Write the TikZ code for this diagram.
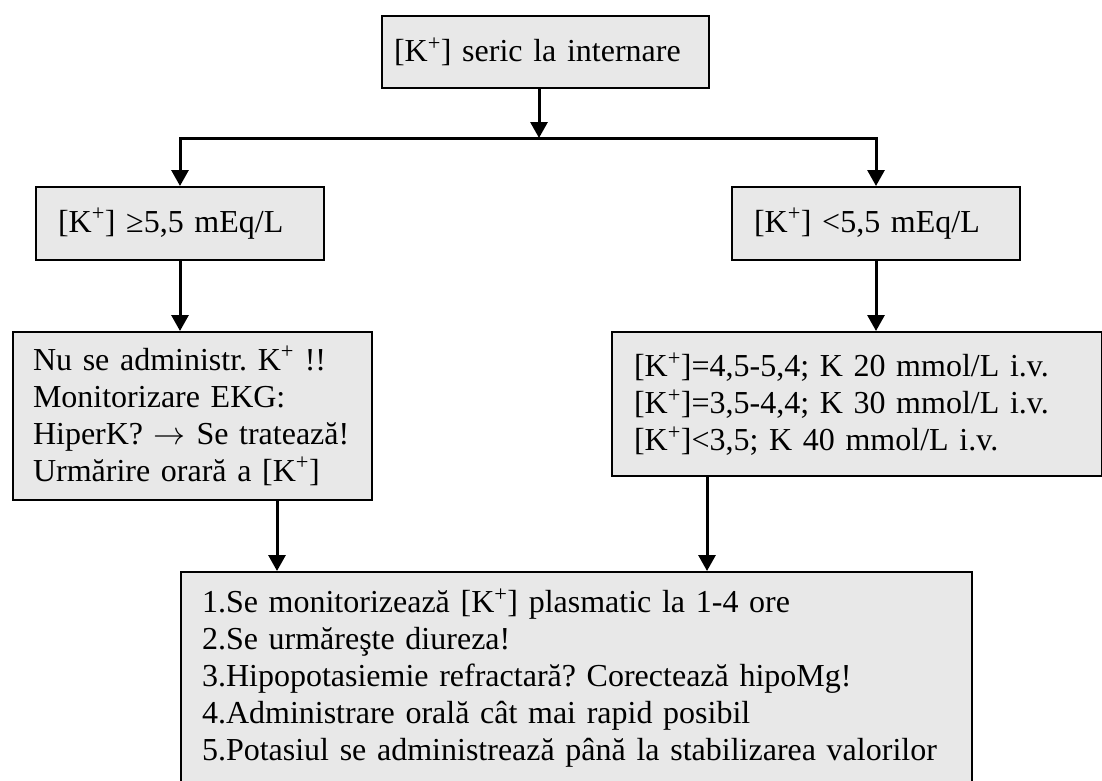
\RequirePackage{fix-cm}
\documentclass[tikz,border=0pt]{standalone}
\usepackage{fontspec}
\setmainfont{Liberation Serif}
\usetikzlibrary{arrows.meta,positioning}
\definecolor{boxgray}{HTML}{E8E8E8}

\begin{document}
\frenchspacing
\begin{tikzpicture}[
  x=1pt, y=-1pt,
  box/.style={draw, line width=2pt, fill=boxgray, anchor=north west, align=left, inner ysep=0pt, font=\fontsize{32}{37}\selectfont},
  arr/.style={-{Triangle[width=17pt,length=16pt]}, line width=3pt}
]
\useasboundingbox (0,0) rectangle (1102,780);

\node[box, inner xsep=12pt, text width=303pt, minimum height=72pt] (adm) at (381,15)
  {[K\textsuperscript{+}] seric la internare};

\node[box, inner xsep=22pt, text width=244pt, minimum height=73pt] (high) at (35,186)
  {[K\textsuperscript{+}] ≥5,5 mEq/L};
\node[box, inner xsep=22pt, text width=244pt, minimum height=73pt] (low) at (731,186)
  {[K\textsuperscript{+}] <5,5 mEq/L};

\node[box, inner xsep=20pt, text width=319pt, minimum height=168pt] (stop) at (12,331)
  {Nu se administr. K\textsuperscript{+} !!\\Monitorizare EKG:\\HiperK? $\rightarrow$ Se tratează!\\Urmărire orară a [K\textsuperscript{+}]};
\node[box, inner xsep=22pt, text width=446pt, minimum height=144pt] (dose) at (611,331)
  {[K\textsuperscript{+}]=4,5-5,4; K 20 mmol/L i.v.\\{}[K\textsuperscript{+}]=3,5-4,4; K 30 mmol/L i.v.\\{}[K\textsuperscript{+}]<3,5; K 40 mmol/L i.v.};

\node[box, inner xsep=21pt, text width=749pt, minimum height=212pt] (care) at (180,571)
  {1.Se monitorizează [K\textsuperscript{+}] plasmatic la 1-4 ore\\2.Se urmăreşte diureza!\\3.Hipopotasiemie refractară? Corectează hipoMg!\\4.Administrare orală cât mai rapid posibil\\5.Potasiul se administrează până la stabilizarea valorilor};

\coordinate (split) at (539,138);
\coordinate (lx) at (277,0);
\coordinate (rx) at (707,0);

\draw[arr] (split |- adm.south) -- (split);
\draw[arr] (split) -| (high.north);
\draw[arr] (split) -| (low.north);
\draw[arr] (high) -- (high.south |- stop.north);
\draw[arr] (low) -- (low.south |- dose.north);
\draw[arr] (lx |- stop.south) -- (lx |- care.north);
\draw[arr] (rx |- dose.south) -- (rx |- care.north);

\end{tikzpicture}
\end{document}
